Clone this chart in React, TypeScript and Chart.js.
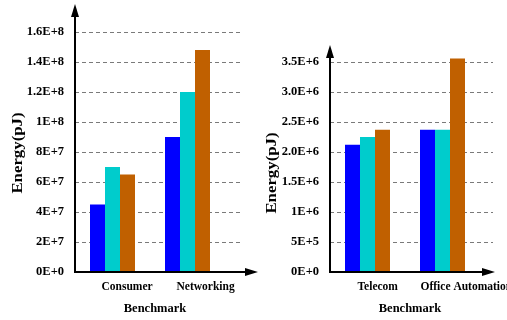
import { useEffect, useRef } from 'react';
import { Chart, registerables } from 'chart.js';

Chart.register(...registerables);

// ---- data ----
const seriesColors = ['#0000ff', '#00cccc', '#c06000'];

const leftCategories = ['Consumer', 'Networking'];
const leftSeriesA = [4.5e7, 9.0e7];
const leftSeriesB = [7.0e7, 1.2e8];
const leftSeriesC = [6.5e7, 1.48e8];
const leftTickLabels = ['0E+0', '2E+7', '4E+7', '6E+7', '8E+7', '1E+8', '1.2E+8', '1.4E+8', '1.6E+8'];

const rightCategories = ['Telecom', 'Office Automation'];
const rightSeriesA = [2.12e6, 2.37e6];
const rightSeriesB = [2.25e6, 2.37e6];
const rightSeriesC = [2.37e6, 3.56e6];
const rightTickLabels = ['0E+0', '5E+5', '1E+6', '1.5E+6', '2.0E+6', '2.5E+6', '3.0E+6', '3.5E+6'];

const yTitleText = 'Energy(pJ)';
const xTitleText = 'Benchmark';

// ---- layout ----
const W = 507;
const H = 320;
const FONT = '"Liberation Serif", "Times New Roman", serif';

type Panel = {
  categories: string[];
  series: number[][];
  tickLabels: string[];
  yMax: number;
  yStep: number;
  area: { left: number; right: number; top: number; bottom: number };
  gridEnd: number;
  xArrowTip: number;
  yArrowTip: number;
  labelOffsets: number[];
  labelY: number;
  yTitle: { x: number; y: number };
  xTitle: { x: number; y: number };
};

const leftPanel: Panel = {
  categories: leftCategories,
  series: [leftSeriesA, leftSeriesB, leftSeriesC],
  tickLabels: leftTickLabels,
  yMax: 1.6e8,
  yStep: 2e7,
  area: { left: 75, right: 225, top: 32, bottom: 272 },
  gridEnd: 242,
  xArrowTip: 258,
  yArrowTip: 4,
  labelOffsets: [-11, -11],
  labelY: 287,
  yTitle: { x: 18, y: 153 },
  xTitle: { x: 155, y: 309 },
};

const rightPanel: Panel = {
  categories: rightCategories,
  series: [rightSeriesA, rightSeriesB, rightSeriesC],
  tickLabels: rightTickLabels,
  yMax: 3.5e6,
  yStep: 5e5,
  area: { left: 330, right: 480, top: 62, bottom: 272 },
  gridEnd: 493,
  xArrowTip: 495,
  yArrowTip: 45,
  labelOffsets: [-10, -22],
  labelY: 287,
  yTitle: { x: 272, y: 173 },
  xTitle: { x: 410, y: 309 },
};

function decorations(p: Panel) {
  return {
    id: 'decorations',
    beforeDatasetsDraw(chart: any) {
      const { ctx, chartArea } = chart;
      const y = chart.scales.y;
      ctx.save();
      ctx.strokeStyle = '#7a7a7a';
      ctx.lineWidth = 1;
      ctx.setLineDash([4, 3]);
      y.ticks.forEach((t: any) => {
        if (t.value === 0) return;
        const py = Math.round(y.getPixelForValue(t.value)) + 0.5;
        ctx.beginPath();
        ctx.moveTo(chartArea.left, py);
        ctx.lineTo(p.gridEnd, py);
        ctx.stroke();
      });
      ctx.restore();
    },
    afterDraw(chart: any) {
      const { ctx, chartArea } = chart;
      const x = chart.scales.x;
      const y = chart.scales.y;
      const x0 = chartArea.left;
      const y0 = y.getPixelForValue(0);
      ctx.save();
      ctx.strokeStyle = '#000';
      ctx.fillStyle = '#000';
      ctx.lineWidth = 2;
      ctx.setLineDash([]);

      // vertical axis with arrow head
      ctx.beginPath();
      ctx.moveTo(x0, y0 + 1);
      ctx.lineTo(x0, p.yArrowTip + 8);
      ctx.stroke();
      ctx.beginPath();
      ctx.moveTo(x0, p.yArrowTip);
      ctx.lineTo(x0 - 4, p.yArrowTip + 13);
      ctx.lineTo(x0 + 4, p.yArrowTip + 13);
      ctx.closePath();
      ctx.fill();

      // horizontal axis with arrow head
      ctx.beginPath();
      ctx.moveTo(x0 - 1, y0);
      ctx.lineTo(p.xArrowTip - 8, y0);
      ctx.stroke();
      ctx.beginPath();
      ctx.moveTo(p.xArrowTip, y0);
      ctx.lineTo(p.xArrowTip - 13, y0 - 4);
      ctx.lineTo(p.xArrowTip - 13, y0 + 4);
      ctx.closePath();
      ctx.fill();

      // category labels
      ctx.font = `bold 11.5px ${FONT}`;
      ctx.textAlign = 'left';
      ctx.textBaseline = 'middle';
      (chart.data.labels as string[]).forEach((c, i) => {
        ctx.fillText(c, x.getPixelForValue(i) + p.labelOffsets[i], p.labelY);
      });

      // axis titles
      ctx.font = `bold 12.5px ${FONT}`;
      ctx.textAlign = 'center';
      ctx.fillText(xTitleText, p.xTitle.x, p.xTitle.y);

      ctx.save();
      ctx.translate(p.yTitle.x, p.yTitle.y);
      ctx.rotate(-Math.PI / 2);
      ctx.scale(1.2, 1);
      ctx.font = `bold 14px ${FONT}`;
      ctx.fillText(yTitleText, 0, 0);
      ctx.restore();

      ctx.restore();
    },
  };
}

function makeChart(canvas: HTMLCanvasElement, p: Panel) {
  return new Chart(canvas, {
    type: 'bar',
    data: {
      labels: p.categories,
      datasets: p.series.map((values, i) => ({
        data: values,
        backgroundColor: seriesColors[i],
        borderWidth: 0,
        categoryPercentage: 0.6,
        barPercentage: 1.0,
        clip: false as any,
      })),
    },
    options: {
      responsive: false,
      animation: false,
      devicePixelRatio: 1,
      layout: {
        padding: {
          left: 0,
          right: W - p.area.right,
          top: p.area.top,
          bottom: H - p.area.bottom,
        },
      },
      plugins: {
        legend: { display: false },
        tooltip: { enabled: false },
      },
      scales: {
        x: {
          display: false,
          offset: true,
        },
        y: {
          min: 0,
          max: p.yMax,
          border: { display: false },
          grid: { display: false, drawTicks: false },
          afterFit: (scale: any) => {
            scale.width = p.area.left;
          },
          ticks: {
            stepSize: p.yStep,
            padding: 11,
            color: '#000',
            font: { family: FONT, weight: 'bold', size: 12.5 },
            callback: (_v: any, i: number) => p.tickLabels[i],
          },
        },
      },
    },
    plugins: [decorations(p)],
  } as any);
}

export default function App() {
  const leftRef = useRef<HTMLCanvasElement>(null);
  const rightRef = useRef<HTMLCanvasElement>(null);

  useEffect(() => {
    if (!leftRef.current || !rightRef.current) return;
    const a = makeChart(leftRef.current, leftPanel);
    const b = makeChart(rightRef.current, rightPanel);
    return () => {
      a.destroy();
      b.destroy();
    };
  }, []);

  const canvasStyle: any = { position: 'absolute', left: 0, top: 0, width: W, height: H };
  return (
    <div style={{ position: 'fixed', left: 0, top: 0, width: W, height: H, background: '#fff', overflow: 'hidden' }}>
      <canvas ref={leftRef} width={W} height={H} style={canvasStyle} />
      <canvas ref={rightRef} width={W} height={H} style={canvasStyle} />
    </div>
  );
}
